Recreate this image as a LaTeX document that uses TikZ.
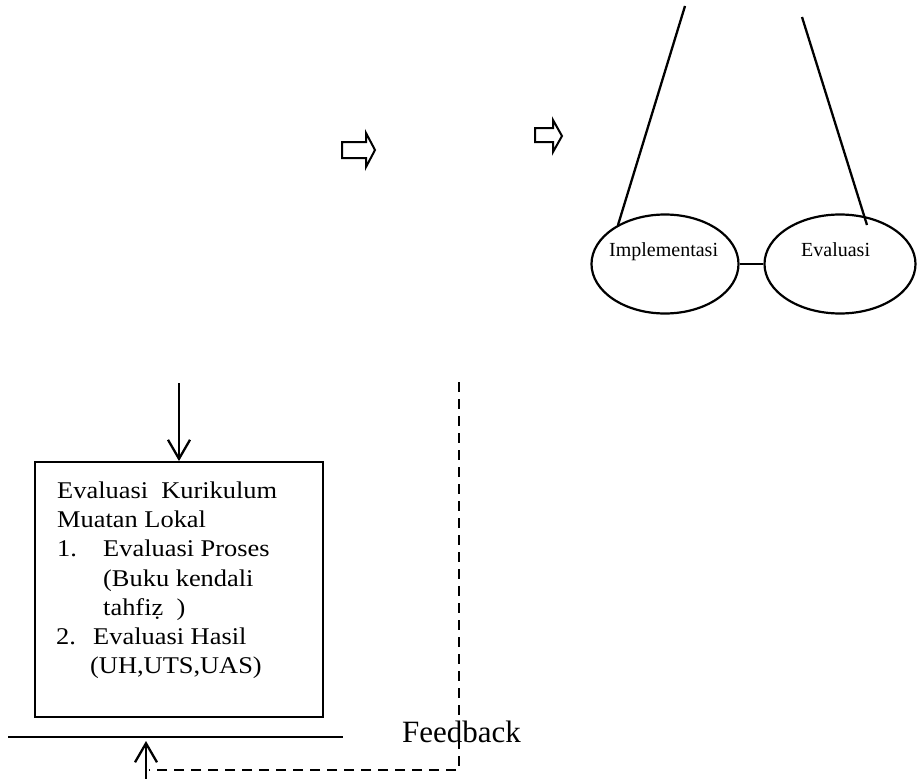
\documentclass[tikz,border=0pt]{standalone}
\usepackage{fontspec}
\setmainfont{Liberation Serif}
\usetikzlibrary{shapes.geometric,arrows.meta}
\newcommand{\wtxt}[1]{\scalebox{1.1}[1]{#1}}
\begin{document}
\begin{tikzpicture}[x=1pt,y=-1pt,
  thin line/.style={line width=1.8pt},
  thick line/.style={line width=2.3pt},
  hollowarrow/.style={line width=2pt, line join=miter},
  oval/.style={ellipse, draw, line width=2.2pt, inner sep=0pt},
  ovaltext/.style={font=\fontsize{20}{24}\selectfont, anchor=base west, inner sep=0pt},
  boxtext/.style={font=\fontsize{24}{29}\selectfont, anchor=base west, inner sep=0pt},
  feedtext/.style={font=\fontsize{31}{36}\selectfont, anchor=base west, inner sep=0pt},
  vtip/.style={-{Straight Barb[length=19pt,width=22pt,line width=2.3pt]}},
  dashline/.style={line width=2.8pt, dash pattern=on 10pt off 7pt}
]
\useasboundingbox (0,0) rectangle (924,779);

% hollow arrows
\draw[hollowarrow] (342,142) -- (366,142) -- (366,133) -- (375,150) -- (366,167) -- (366,158) -- (342,158) -- cycle;
\draw[hollowarrow] (535,128) -- (553,128) -- (553,120) -- (562,136) -- (553,152) -- (553,142) -- (535,142) -- cycle;

% ellipses
\node[oval, minimum width=147pt, minimum height=99pt] (imp) at (665,264) {};
\node[oval, minimum width=151pt, minimum height=99pt] (eva) at (840,264) {};
\node[ovaltext] (impt) at (609,256) {Implementasi};
\node[ovaltext] (evat) at (801,256) {Evaluasi};
\draw[thick line] (imp.east) -- (eva.west);

% lines from top
\coordinate (l1a) at (685,6);
\coordinate (l1b) at (618,225);
\coordinate (l2a) at (802,17);
\coordinate (l2b) at (867,225);
\draw[thick line] (l1a) -- (l1b);
\draw[thick line] (l2a) -- (l2b);

% box
\node[draw, thin line, minimum width=288pt, minimum height=255pt, inner sep=0pt] (box) at (179,589.5) {};
\node[boxtext] (t1) at (57,498) {\wtxt{Evaluasi\ \ Kurikulum}};
\node[boxtext] (t2) at (57,527) {\wtxt{Muatan Lokal}};
\node[boxtext] (t3a) at (57,556) {\wtxt{1.}};
\node[boxtext] (t3b) at (103,556) {\wtxt{Evaluasi Proses}};
\node[boxtext] (t4) at (103,586) {\wtxt{(Buku kendali}};
\node[boxtext] (t5) at (103,615) {\wtxt{tahfiẓ\ \ )}};
\node[boxtext] (t6a) at (56,644) {\wtxt{2.}};
\node[boxtext] (t6b) at (93,644) {\wtxt{Evaluasi Hasil}};
\node[boxtext] (t7) at (90,673) {\wtxt{(UH,UTS,UAS)}};

% down arrow into box
\coordinate (dtop) at (179,383);
\draw[thick line, vtip] (dtop) -- (box.north);

% horizontal line
\coordinate (h1) at (8,737);
\coordinate (h2) at (343,737);
\draw[thin line] (h1) -- (h2);

% feedback
\node[feedtext] (fb) at (402,742) {Feedback};
\coordinate (dA) at (459,382);
\coordinate (dB) at (459,770);
\coordinate (dC) at (149,770);
\draw[dashline] (dA) -- (dB) -- (dC);
\coordinate (ub) at (146,779);
\coordinate (ut) at (146,741);
\draw[thick line, vtip] (ub) -- (ut);
\end{tikzpicture}
\end{document}
